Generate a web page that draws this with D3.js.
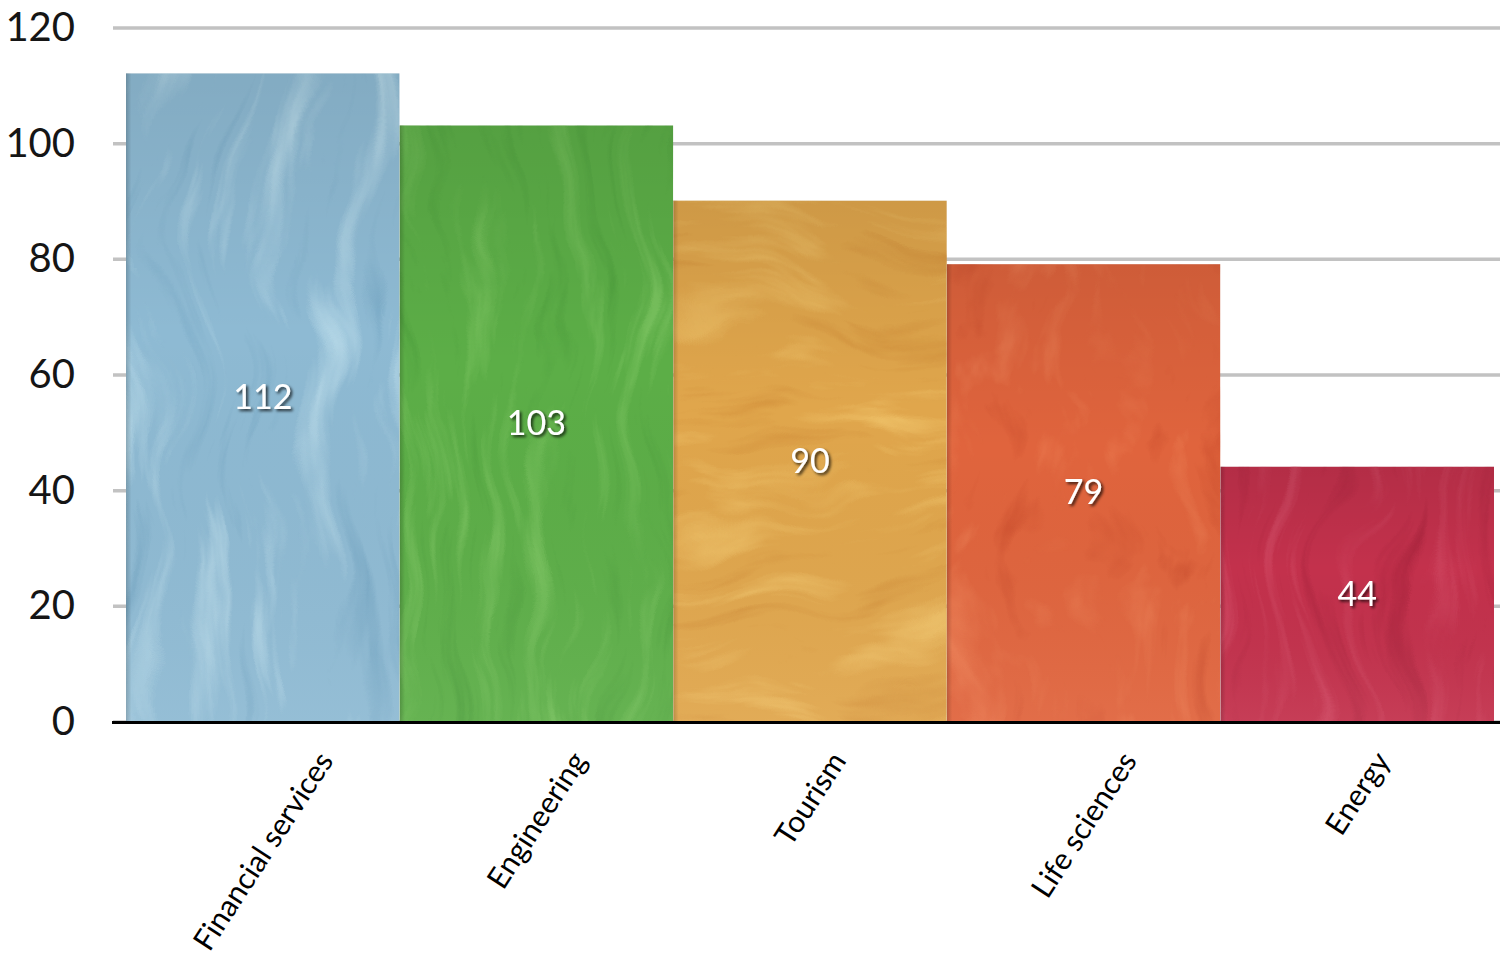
<!DOCTYPE html>
<html>
<head>
<meta charset="utf-8">
<script src="https://cdn.jsdelivr.net/npm/d3@7"></script>
<style>
  html, body { margin: 0; padding: 0; background: #fff; }
  svg { display: block; }
  text { font-family: Lato, "Open Sans", sans-serif; }
</style>
</head>
<body>
<svg id="chart" width="1501" height="959"></svg>
<script>
// Sector values
const categories = ["Financial services", "Engineering", "Tourism", "Life sciences", "Energy"];
const values = [112, 103, 90, 79, 44];
const yTicks = [0, 20, 40, 60, 80, 100, 120];

// Painted-texture palette per bar: base, light streak, dark streak
const baseColors  = ["#8ebad3", "#5cae47", "#e0a64c", "#e0643d", "#c3314c"];
const lightColors = ["#b6d8e7", "#76c05c", "#ecbd64", "#ea7a50", "#d04862"];
const darkColors  = ["#74a5c2", "#4c9d3c", "#d3913c", "#cc4f2e", "#ab253e"];
// Stroke direction of the paint texture: vertical sweeps or horizontal swirls
const strokeFreq = ["0.03 0.004", "0.04 0.005", "0.006 0.035", "0.02 0.01", "0.04 0.004"];

const svg = d3.select("#chart");
const left = 113, right = 1500;

const y = d3.scaleLinear().domain([0, 120]).range([721, 27]);
const x = d3.scaleBand().domain(categories).range([126, 1494]).padding(0);

const defs = svg.append("defs");

// Texture filters: noise computed over a wider region, then trimmed to the bar
categories.forEach((c, i) => {
  const f = defs.append("filter")
    .attr("id", "paint" + i)
    .attr("x", "-40%").attr("y", "-40%").attr("width", "180%").attr("height", "180%")
    .attr("color-interpolation-filters", "sRGB");
  f.append("feTurbulence")
    .attr("type", "fractalNoise")
    .attr("baseFrequency", strokeFreq[i])
    .attr("numOctaves", 4)
    .attr("seed", 3 + i * 7)
    .attr("result", "streak");
  f.append("feTurbulence")
    .attr("type", "fractalNoise")
    .attr("baseFrequency", "0.006 0.006")
    .attr("numOctaves", 2)
    .attr("seed", 11 + i)
    .attr("result", "blot");
  f.append("feDisplacementMap")
    .attr("in", "streak").attr("in2", "blot")
    .attr("scale", 110)
    .attr("xChannelSelector", "R").attr("yChannelSelector", "G")
    .attr("result", "swirl");
  f.append("feColorMatrix")
    .attr("in", "swirl")
    .attr("type", "matrix")
    .attr("values", "0 0 0 0 1  0 0 0 0 1  0 0 0 0 1  2.9 0 0 0 -1.55")
    .attr("result", "lightMask");
  f.append("feColorMatrix")
    .attr("in", "swirl")
    .attr("type", "matrix")
    .attr("values", "0 0 0 0 0  0 0 0 0 0  0 0 0 0 0  -2.6 0 0 0 1.0")
    .attr("result", "darkMask");
  f.append("feFlood").attr("flood-color", lightColors[i]).attr("result", "lc");
  f.append("feComposite").attr("in", "lc").attr("in2", "lightMask").attr("operator", "in").attr("result", "lightLayer");
  f.append("feFlood").attr("flood-color", darkColors[i]).attr("result", "dc");
  f.append("feComposite").attr("in", "dc").attr("in2", "darkMask").attr("operator", "in").attr("result", "darkLayer");
  f.append("feMerge").call(m => {
    m.append("feMergeNode").attr("in", "SourceGraphic");
    m.append("feMergeNode").attr("in", "darkLayer");
    m.append("feMergeNode").attr("in", "lightLayer");
  }).attr("result", "merged");
  f.append("feComposite").attr("in", "merged").attr("in2", "SourceGraphic").attr("operator", "in");
});

// Soft edge shading on bars
const edge = defs.append("linearGradient").attr("id", "edgeShade")
  .attr("x1", 0).attr("x2", 1).attr("y1", 0).attr("y2", 0);
edge.append("stop").attr("offset", "0").attr("stop-color", "#000").attr("stop-opacity", 0.18);
edge.append("stop").attr("offset", "0.02").attr("stop-color", "#000").attr("stop-opacity", 0.0);
edge.append("stop").attr("offset", "1").attr("stop-color", "#000").attr("stop-opacity", 0.0);

const topShade = defs.append("linearGradient").attr("id", "topShade")
  .attr("x1", 0).attr("x2", 0).attr("y1", 0).attr("y2", 1);
topShade.append("stop").attr("offset", "0").attr("stop-color", "#000").attr("stop-opacity", 0.08);
topShade.append("stop").attr("offset", "0.4").attr("stop-color", "#000").attr("stop-opacity", 0.0);
topShade.append("stop").attr("offset", "1").attr("stop-color", "#fff").attr("stop-opacity", 0.06);

const shadow = defs.append("filter").attr("id", "labelShadow")
  .attr("x", "-30%").attr("y", "-30%").attr("width", "160%").attr("height", "160%");
shadow.append("feDropShadow").attr("dx", 2).attr("dy", 2).attr("stdDeviation", 1.6)
  .attr("flood-color", "#000").attr("flood-opacity", 0.75);

// Gridlines and y tick labels
const yAxis = d3.axisLeft(y)
  .tickValues(yTicks)
  .tickSize(-(right - left))
  .tickPadding(38)
  .tickFormat(d3.format("d"));

const gy = svg.append("g")
  .attr("transform", `translate(${left},0)`)
  .call(yAxis);
gy.select(".domain").remove();
gy.selectAll(".tick line")
  .attr("stroke", "#c2c2c2")
  .attr("stroke-width", 3.5)
  .attr("transform", "translate(0,0.5)");
gy.selectAll(".tick text")
  .attr("font-size", 40)
  .attr("fill", "#151515")
  .attr("font-family", "Lato, sans-serif")
  .attr("dy", "0.34em");

// Bars
const bars = svg.append("g").selectAll("g.bar")
  .data(categories.map((c, i) => ({ c, v: values[i], i })))
  .join("g").attr("class", "bar");

["paint", "top", "edge"].forEach(layer => {
  bars.append("rect")
    .attr("x", d => x(d.c))
    .attr("y", d => y(d.v))
    .attr("width", x.bandwidth())
    .attr("height", d => y(0) - y(d.v))
    .attr("fill", d => layer === "paint" ? baseColors[d.i] : layer === "top" ? "url(#topShade)" : "url(#edgeShade)")
    .attr("filter", d => layer === "paint" ? `url(#paint${d.i})` : null);
});

// Value labels
bars.append("text")
  .attr("x", d => x(d.c) + x.bandwidth() / 2)
  .attr("y", d => (y(d.v) + y(0)) / 2)
  .attr("dy", "0.35em")
  .attr("text-anchor", "middle")
  .attr("font-size", 34)
  .attr("fill", "#fff")
  .attr("filter", "url(#labelShadow)")
  .text(d => d.v);

// Baseline
svg.append("line")
  .attr("x1", left - 1).attr("x2", right)
  .attr("y1", y(0) + 1.5).attr("y2", y(0) + 1.5)
  .attr("stroke", "#000")
  .attr("stroke-width", 3);

// Category labels: rotated, centred horizontally under each bar, tops aligned
const angle = 57;
const rad = angle * Math.PI / 180;
const labelSize = 30;
const capH = labelSize * 0.72;
const catLabels = svg.append("g").selectAll("text")
  .data(categories)
  .join("text")
  .attr("text-anchor", "end")
  .attr("font-size", labelSize)
  .attr("fill", "#000")
  .text(d => d);

catLabels.attr("transform", function(d) {
  const L = this.getComputedTextLength();
  const ax = x(d) + x.bandwidth() / 2 + (L * Math.cos(rad)) / 2 + (capH * Math.sin(rad)) / 2;
  const ay = 749 + capH * Math.cos(rad);
  return `translate(${ax},${ay}) rotate(${-angle})`;
});
</script>
</body>
</html>
